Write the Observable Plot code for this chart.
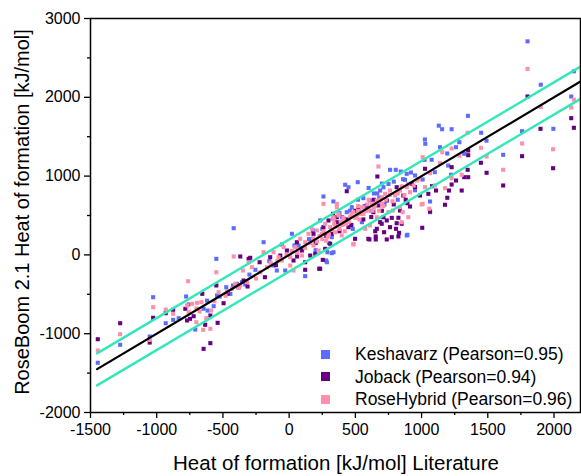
<!DOCTYPE html>
<html>
<head>
<meta charset="utf-8">
<script src="https://cdn.jsdelivr.net/npm/d3@7"></script>
<script src="https://cdn.jsdelivr.net/npm/@observablehq/plot@0.6"></script>
<style>
  html, body { margin: 0; padding: 0; background: #fff; }
  #wrap { position: relative; width: 581px; height: 476px; font-family: "Liberation Sans", Arial, sans-serif; color: #000; }
  #wrap svg { position: absolute; left: 0; top: 0; }
  .ylab { position: absolute; left: 22px; top: 212px; transform: translate(-50%, -50%) rotate(-90deg); font-size: 20px; white-space: nowrap; }
  .xlab { position: absolute; left: 336px; top: 463px; transform: translate(-50%, -50%); font-size: 20.5px; white-space: nowrap; }
  .legend { position: absolute; left: 320px; top: 343px; font-size: 17.5px; line-height: 22.5px; }
  .legend div { display: flex; align-items: center; white-space: nowrap; }
  .legend span.sw { display: inline-block; width: 9px; height: 9px; margin-right: 25px; margin-left: 1px; }
</style>
</head>
<body>
<div id="wrap">
  <div class="ylab">RoseBoom 2.1 Heat of formation [kJ/mol]</div>
  <div class="xlab">Heat of formation [kJ/mol] Literature</div>
  <div class="legend" id="legend"></div>
</div>
<script>
// ---- data (literature value, predicted value) ----
const seriesNames = ["Keshavarz (Pearson=0.95)", "Joback (Pearson=0.94)", "RoseHybrid (Pearson=0.96)"];
const seriesColors = ["#5b6cff", "#66007f", "#ff8fab"];

const keshavarz = [
  [-1445,-1369],[-1276,-1141],[-1053,-1036],[-1027,-537],[-932,-867],[-876,-824],[-834,-803],[-778,-528],
  [-759,-629],[-709,-947],[-646,-684],[-616,-706],[-570,-651],[-550,-50],[-545,-515],[-525,-528],[-475,-410],
  [-444,-494],[-424,-388],[-394,-367],[-356,-346],[-331,-376],[-419,339],[-255,-189],[-193,161],[-118,-135],
  [-93,-198],[-55,132],[-30,-198],[21,268],[71,119],[121,-270],[179,310],[234,437],[279,-71],[289,34],
  [322,225],[347,395],[322,22],[335,34],[285,-93],[259,741],[334,678],[423,890],[448,859],[435,542],[473,605],
  [518,923],[549,415],[611,690],[669,1249],[687,817],[712,859],[665,780],[700,905],[762,1080],[805,1080],
  [843,1058],[888,1029],[920,1045],[875,953],[951,1008],[888,246],[893,255],[1008,957],[1023,1207],[1076,1207],
  [1064,678],[1064,542],[1025,1465],[1028,1410],[1130,1640],[1155,1595],[1227,1595],[1139,1367],[1194,1287],
  [1201,1134],[1222,1017],[1260,1367],[1285,1430],[1322,1283],[1350,1765],[1450,1550],[1490,1450],[1616,1270],
  [1759,1570],[1800,2710],[1900,2160],[1995,1600],[2130,2010],[2150,2330],
  [150,200],[400,480],[560,720],[620,560],[750,900],[820,700],[480,330],[300,150],[200,60],[-150,-80],
  [-300,-250],[-620,-580],[600,850],[720,640],[950,820],[1100,1050],
  [250,330],[330,460],[380,530],[460,560],[520,700],[640,780],[680,730],[790,930],[860,960],[100,80],[40,120],[570,620]
];

const joback = [
  [-1445,-1070],[-1276,-867],[-1053,-1112],[-1027,-798],[-932,-740],[-876,-697],[-784,-684],[-771,-832],
  [-749,-811],[-721,-778],[-656,-494],[-634,-887],[-595,-769],[-595,-1120],[-646,-1192],[-550,-388],[-540,-862],
  [-495,-613],[-465,-494],[-382,-410],[-369,-20],[-344,-325],[-314,-401],[-306,-50],[-294,-37],[-223,-93],
  [-183,-283],[-143,-29],[-67,-8],[-17,56],[33,-71],[58,161],[96,56],[121,-189],[121,-93],[159,-8],[184,268],
  [197,14],[227,-176],[234,-176],[254,-63],[259,352],[272,77],[297,437],[310,141],[322,268],[332,521],[360,478],
  [360,415],[435,808],[448,352],[498,204],[523,585],[586,627],[598,204],[606,196],[636,542],[650,300],[654,196],
  [654,234],[662,331],[666,995],[674,627],[687,415],[699,395],[712,478],[717,288],[737,690],[737,437],[737,196],
  [762,352],[775,470],[775,225],[807,331],[812,859],[812,402],[825,471],[825,234],[830,280],[837,563],[850,395],
  [862,754],[893,656],[913,614],[925,902],[988,754],[1005,344],[1026,1093],[1051,775],[1064,551],[1079,872],
  [1109,817],[1177,636],[1194,725],[1207,817],[1227,1113],[1227,893],[1260,944],[1303,817],[1322,986],[1348,1080],
  [1352,986],[1352,1325],[1352,1265],[1448,1169],[1491,1042],[1616,881],[1759,1253],[1800,2010],[1898,1600],
  [1993,1100],[2130,1735],[2150,1613],
  [200,150],[280,240],[380,300],[430,450],[470,380],[560,450],[620,480],[700,560],[790,640],[880,700],
  [950,860],[60,-20],[-100,-130],[500,560],[640,700]
];

const roseHybrid = [
  [-1445,-1213],[-1276,-1006],[-1053,-1078],[-1027,-663],[-932,-693],[-876,-748],[-771,-642],[-763,-334],
  [-759,-727],[-733,-620],[-701,-854],[-696,-608],[-676,-718],[-663,-600],[-650,-951],[-626,-803],[-595,-938],
  [-590,-706],[-565,-588],[-550,-220],[-533,-473],[-469,-461],[-432,-430],[-419,-20],[-407,-367],
  [-369,-388],[-349,-198],[-318,-346],[-306,-93],[-281,-156],[-218,-220],[-193,34],[-168,-156],[-118,34],[-88,-80],
  [-55,-71],[-42,98],[8,-29],[8,-135],[33,-198],[46,98],[83,204],[96,-8],[121,161],[146,268],[172,331],[184,119],
  [209,310],[222,56],[247,268],[259,648],[272,395],[310,352],[335,478],[335,458],[347,288],[360,605],[360,648],
  [372,500],[372,521],[397,246],[410,437],[460,478],[485,542],[485,141],[485,132],[511,500],[549,605],[561,521],
  [574,331],[599,563],[611,373],[624,648],[662,690],[662,478],[674,1122],[699,732],[724,775],[749,542],[762,817],
  [783,563],[800,754],[837,817],[837,605],[850,415],[858,542],[888,859],[900,478],[913,796],[963,944],[1000,640],
  [1008,1240],[1008,648],[1026,859],[1058,585],[1064,1037],[1101,881],[1139,1164],[1156,1303],[1177,846],
  [1227,1350],[1227,973],[1285,1258],[1303,1017],[1348,1550],[1448,1359],[1491,1249],[1616,1080],[1759,1414],
  [1800,2360],[1900,1875],[1993,1341],[2130,1870],[2150,1970],
  [250,200],[300,260],[400,380],[450,420],[530,450],[560,600],[640,600],[700,650],[420,300],[380,330],
  [280,180],[180,210],[520,560],[600,700],[680,560],
  [120,90],[160,150],[210,170],[230,240],[260,300],[290,230],[320,320],[340,400],[350,360],[390,420],
  [410,470],[430,390],[470,520],[500,470],[540,520],[580,560],[590,640],[630,560],[650,640],[690,700],
  [710,620],[730,700],[760,760],[780,680],[820,780],[850,870],[870,760],[900,900],[940,880],[980,960],
  [60,30],[20,50],[-20,0],[-80,-30],[-140,-100],[-250,-300],[-380,-420],[-480,-520],[-700,-680],[520,620]
];

// reference lines: parity line and +/- band
const lineX = [-1450, 2200];
const parityY = [-1450, 2200];
const upperY = [-1250, 2390];
const lowerY = [-1655, 1980];

// axis ticks
const xTicks = [-1500, -1000, -500, 0, 500, 1000, 1500, 2000];
const xMinor = [-1250, -750, -250, 250, 750, 1250, 1750];
const yTicks = [-2000, -1000, 0, 1000, 2000, 3000];
const yMinor = [-1500, -500, 500, 1500, 2500];

// ---- build ----
const pts = [];
[keshavarz, joback, roseHybrid].forEach((arr, i) => arr.forEach(([x, y]) => pts.push({x, y, s: seriesNames[i]})));
const lineData = (ys) => lineX.map((x, i) => ({x, y: ys[i]}));
const fmt = (d) => String(d);

const chart = Plot.plot({
  width: 581,
  height: 476,
  marginLeft: 90,
  marginRight: 1,
  marginTop: 18,
  marginBottom: 64,
  style: {fontFamily: "'Liberation Sans', Arial, sans-serif", fontSize: "16px", color: "#000", background: "transparent", overflow: "visible"},
  x: {domain: [-1500, 2200]},
  y: {domain: [-2000, 3000]},
  color: {domain: seriesNames, range: seriesColors},
  marks: [
    Plot.dot(pts, {x: "x", y: "y", fill: "s", symbol: "square", r: 2.3}),
    Plot.line(lineData(upperY), {x: "x", y: "y", stroke: "#33e8b8", strokeWidth: 2.5}),
    Plot.line(lineData(lowerY), {x: "x", y: "y", stroke: "#33e8b8", strokeWidth: 2.5}),
    Plot.line(lineData(parityY), {x: "x", y: "y", stroke: "#000", strokeWidth: 2.2}),
    Plot.frame({stroke: "#000", strokeWidth: 1.5}),
    Plot.axisX({ticks: xTicks, tickSize: 6, tickPadding: 5, tickFormat: fmt, label: null, stroke: "#000", strokeWidth: 1.3, fontSize: 16}),
    Plot.axisX({ticks: xMinor, tickSize: 3, tickFormat: () => "", label: null, stroke: "#000", strokeWidth: 1.3}),
    Plot.axisY({ticks: yTicks, tickSize: 6, tickPadding: 4, tickFormat: fmt, label: null, stroke: "#000", strokeWidth: 1.3, fontSize: 16}),
    Plot.axisY({ticks: yMinor, tickSize: 3, tickFormat: () => "", label: null, stroke: "#000", strokeWidth: 1.3})
  ]
});
document.getElementById("wrap").prepend(chart);

const leg = document.getElementById("legend");
seriesNames.forEach((n, i) => {
  const row = document.createElement("div");
  row.innerHTML = `<span class="sw" style="background:${seriesColors[i]}"></span><span>${n}</span>`;
  leg.appendChild(row);
});
</script>
</body>
</html>
